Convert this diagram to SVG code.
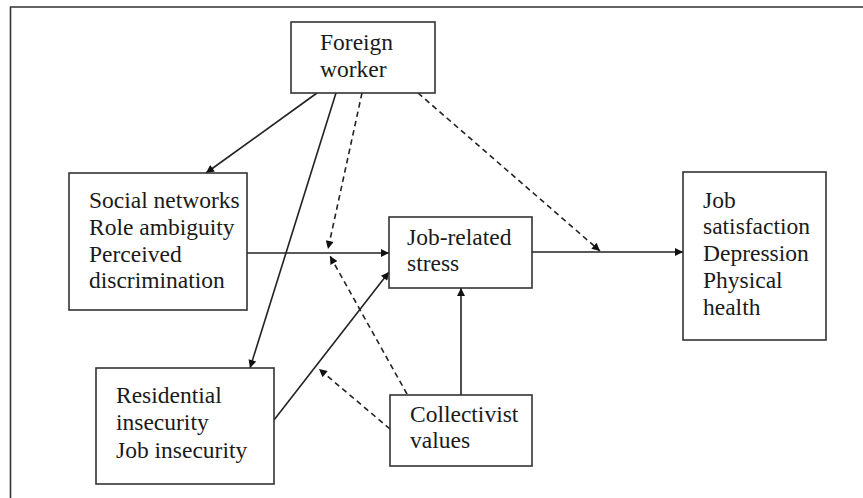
<svg xmlns="http://www.w3.org/2000/svg" width="863" height="498" viewBox="0 0 863 498">
<defs>
<style>
.box{fill:#fff;stroke:#333;stroke-width:1.6}
.t{font-family:"Liberation Serif","Times New Roman",serif;font-size:23.5px;fill:#1a1a1a}
.s{fill:none;stroke:#222;stroke-width:1.6}
.d{fill:none;stroke:#222;stroke-width:1.6;stroke-dasharray:5.5 4}
.frame{fill:none;stroke:#333;stroke-width:1.6}
</style>
<marker id="ah" viewBox="0 0 10 10" refX="10" refY="5" markerWidth="10" markerHeight="8" markerUnits="userSpaceOnUse" orient="auto">
<path d="M0,0 L10,5 L0,10 z" fill="#111"/>
</marker>
</defs>
<rect width="863" height="498" fill="#fff"/>
<path class="frame" d="M10.5,498 V7 H863"/>

<g id="connectors">
<line class="s" x1="317" y1="93" x2="206" y2="173" marker-end="url(#ah)"/>
<line class="s" x1="336" y1="93" x2="250" y2="368" marker-end="url(#ah)"/>
<line class="d" x1="362" y1="93" x2="328" y2="249" marker-end="url(#ah)"/>
<line class="d" x1="418" y1="93" x2="600" y2="251" marker-end="url(#ah)"/>
<line class="s" x1="247" y1="253" x2="389" y2="253" marker-end="url(#ah)"/>
<line class="s" x1="532" y1="252" x2="683" y2="252" marker-end="url(#ah)"/>
<line class="s" x1="274" y1="420" x2="389" y2="272" marker-end="url(#ah)"/>
<line class="s" x1="461" y1="395" x2="461" y2="288" marker-end="url(#ah)"/>
<line class="d" x1="407" y1="394" x2="330" y2="256" marker-end="url(#ah)"/>
<line class="d" x1="390" y1="429" x2="319" y2="369" marker-end="url(#ah)"/>
</g>

<g id="foreign-worker">
<rect class="box" x="291" y="22" width="144" height="71"/>
<text class="t" x="320" y="50">Foreign</text>
<text class="t" x="320" y="77">worker</text>
</g>

<g id="social-networks">
<rect class="box" x="69" y="173" width="178" height="137"/>
<text class="t" x="89" y="208">Social networks</text>
<text class="t" x="89" y="235">Role ambiguity</text>
<text class="t" x="89" y="262">Perceived</text>
<text class="t" x="89" y="288">discrimination</text>
</g>

<g id="job-related-stress">
<rect class="box" x="389" y="217" width="143" height="71"/>
<text class="t" x="407" y="245">Job-related</text>
<text class="t" x="407" y="271">stress</text>
</g>

<g id="outcomes">
<rect class="box" x="683" y="172" width="143" height="168"/>
<text class="t" x="703" y="208">Job</text>
<text class="t" x="703" y="234">satisfaction</text>
<text class="t" x="703" y="261">Depression</text>
<text class="t" x="703" y="288">Physical</text>
<text class="t" x="703" y="315">health</text>
</g>

<g id="residential-insecurity">
<rect class="box" x="96" y="368" width="178" height="116"/>
<text class="t" x="116" y="403">Residential</text>
<text class="t" x="116" y="430">insecurity</text>
<text class="t" x="116" y="458">Job insecurity</text>
</g>

<g id="collectivist-values">
<rect class="box" x="390" y="395" width="142" height="71"/>
<text class="t" x="410" y="422">Collectivist</text>
<text class="t" x="410" y="448">values</text>
</g>
</svg>
